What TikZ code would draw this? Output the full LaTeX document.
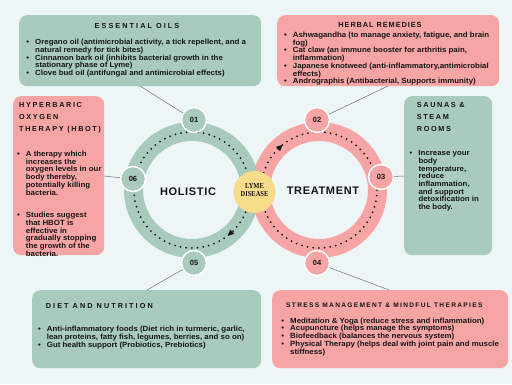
\documentclass[tikz,border=0pt]{standalone}
\usepackage{fontspec}
\setmainfont{Liberation Sans}
\newfontfamily\bodyf{Liberation Sans}[FakeStretch=1.05]
\newfontfamily\ttlf{Liberation Sans}[LetterSpace=22]
\newfontfamily\ttle{Liberation Sans}[LetterSpace=28]
\newfontfamily\ttls{Liberation Sans}[LetterSpace=20]
\newfontfamily\ttlh{Liberation Sans}[LetterSpace=12]
\newfontfamily\bigf{Liberation Sans}[LetterSpace=6]
\newfontfamily\lymef{Liberation Serif}[FakeStretch=0.85]
\usetikzlibrary{arrows.meta,calc}
\definecolor{bg}{HTML}{EEF5F6}
\definecolor{grn}{HTML}{A8CBBD}
\definecolor{pnk}{HTML}{F6A5A4}
\definecolor{ylw}{HTML}{F7DC8B}
\definecolor{ink}{HTML}{151515}
\definecolor{lnc}{HTML}{707070}
\newcommand{\bul}{\makebox[8.8pt][l]{•}}
\newcommand{\cnt}{\hspace*{8.8pt}}
\tikzset{
  box/.style={rounded corners=8pt, anchor=north west, inner sep=0pt},
  gbox/.style={box, fill=grn},
  pbox/.style={box, fill=pnk},
  body/.style={anchor=base west, inner sep=0pt, text=ink, font=\fontsize{7.5}{7.6}\selectfont\bodyf\bfseries},
  ttl/.style={inner sep=0pt, text=ink, font=\fontsize{7.3}{12}\selectfont\ttlf\bfseries},
  ttlw/.style={inner sep=0pt, text=ink, font=\fontsize{7.3}{12}\selectfont\ttle\bfseries},
  num/.style={circle, minimum size=25pt, inner sep=0pt, draw=white, line width=1.5pt, text=ink, font=\fontsize{7.5}{8}\selectfont\bfseries},
  gnum/.style={num, fill=grn},
  pnum/.style={num, fill=pnk},
  conn/.style={draw=lnc, line width=0.5pt},
  dots/.style={draw=ink, line width=2pt, line cap=round, dash pattern=on 0pt off 5.7pt},
  big/.style={inner sep=0pt, text=ink, font=\fontsize{11}{12}\selectfont\bigf\bfseries}
}
\begin{document}
\begin{tikzpicture}[x=1pt,y=-1pt]
\fill[bg] (0,0) rectangle (512,384);
\useasboundingbox (0,0) rectangle (512,384);

% rings
\coordinate (L) at (192,190);
\coordinate (R) at (319,190);
\draw[pnk, line width=19pt] (R) circle[radius=58.5];
\draw[grn, line width=19pt] (L) circle[radius=58.5];
\draw[dots] (L) circle[radius=58];
\draw[dots] (R) circle[radius=58];
\fill[ink] ($(L)+(52:58)$) -- ($(L)+(46:61)$) -- ($(L)+(46:55)$) -- cycle;
\fill[ink] ($(R)+(231:58)$) -- ($(R)+(225:61)$) -- ($(R)+(225:55)$) -- cycle;

% boxes
\node[gbox, minimum width=242pt, minimum height=71pt] (eo) at (19,15) {};
\node[pbox, minimum width=222pt, minimum height=71pt] (hr) at (277,15) {};
\node[pbox, minimum width=91pt, minimum height=159pt] (hb) at (13,96) {};
\node[gbox, minimum width=88pt, minimum height=159pt] (sa) at (404,96) {};
\node[gbox, minimum width=229pt, minimum height=78pt] (dn) at (32,290) {};
\node[pbox, minimum width=236pt, minimum height=78pt] (sm) at (272,290) {};

% connector ends
\coordinate (eoc) at (140,86);
\coordinate (hrc) at (388,86);
\coordinate (hbc) at (104,176);
\coordinate (sac) at (404,176);
\coordinate (dnc) at (147,290);
\coordinate (smc) at (389,290);

% step nodes
\node[gnum] (n1) at (194,120) {01};
\node[pnum] (n2) at (317,120) {02};
\node[pnum] (n3) at (381,177) {03};
\node[pnum] (n4) at (317,263) {04};
\node[gnum] (n5) at (194,263) {05};
\node[gnum] (n6) at (133,179) {06};

\draw[conn] (eoc) -- (n1);
\draw[conn] (hrc) -- (n2);
\draw[conn] (hbc) -- (n6);
\draw[conn] (sac) -- (n3);
\draw[conn] (dnc) -- (n5);
\draw[conn] (smc) -- (n4);

% centre
\node[circle, fill=ylw, minimum size=42pt, inner sep=0pt] (ld) at (254.5,192) {};
\node[inner sep=0pt, text=ink, font=\fontsize{7.6}{8.6}\selectfont\lymef\bfseries, align=center] (ldt) at (254.5,190) {LYME\\DISEASE};
\node[big] (hol) at (188,192) {HOLISTIC};
\node[big] (trt) at (323,191) {TREATMENT};

% titles
\node[ttlw, anchor=base] (eot) at (137,28.6) {ESSENTIAL OILS};
\node[inner sep=0pt, text=ink, font=\fontsize{7.4}{9}\selectfont\ttlh\bfseries, anchor=base] (hrt) at (380,27.6) {HERBAL REMEDIES};
\node[ttl, anchor=base west] (hbt) at (19,107.6) {\begin{tabular}[t]{@{}l@{}}HYPERBARIC\\OXYGEN\\THERAPY (HBOT)\end{tabular}};
\node[ttl, anchor=base west] (sat) at (416.7,107.6) {\begin{tabular}[t]{@{}l@{}}SAUNAS \&\\STEAM\\ROOMS\end{tabular}};
\node[ttlw, anchor=base west] (dnt) at (45.7,308.6) {DIET AND NUTRITION};
\node[ttl, anchor=base west, font=\fontsize{6.6}{8}\selectfont\ttls\bfseries] (smt) at (286,307.5) {STRESS MANAGEMENT \& MINDFUL THERAPIES};

% body texts
\node[body] (eob) at (26.2,44.8) {\begin{tabular}[t]{@{}l@{}}
\bul Oregano oil (antimicrobial activity, a tick repellent, and a\\
\cnt natural remedy for tick bites)\\
\bul Cinnamon bark oil (inhibits bacterial growth in the\\
\cnt stationary phase of Lyme)\\
\bul Clove bud oil (antifungal and antimicrobial effects)
\end{tabular}};
\node[body] (hrb) at (283.9,37.5) {\begin{tabular}[t]{@{}l@{}}
\bul Ashwagandha (to manage anxiety, fatigue, and brain\\
\cnt fog)\\
\bul Cat claw (an immune booster for arthritis pain,\\
\cnt inflammation)\\
\bul Japanese knotweed (anti-inflammatory,antimicrobial\\
\cnt effects)\\
\bul Andrographis (Antibacterial, Supports immunity)
\end{tabular}};
\node[body] (hbb) at (16.9,156.5) {\begin{tabular}[t]{@{}l@{}}
\bul A therapy which\\
\cnt increases the\\
\cnt oxygen levels in our\\
\cnt body thereby,\\
\cnt potentially killing\\
\cnt bacteria.\\[15pt]
\bul Studies suggest\\
\cnt that HBOT is\\
\cnt effective in\\
\cnt gradually stopping\\
\cnt the growth of the\\
\cnt bacteria.
\end{tabular}};
\node[body] (sab) at (409.5,155.8) {\begin{tabular}[t]{@{}l@{}}
\bul Increase your\\
\cnt body\\
\cnt temperature,\\
\cnt reduce\\
\cnt inflammation,\\
\cnt and support\\
\cnt detoxification in\\
\cnt the body.
\end{tabular}};
\node[body] (dnb) at (37.9,331.8) {\begin{tabular}[t]{@{}l@{}}
\bul Anti-inflammatory foods (Diet rich in turmeric, garlic,\\
\cnt lean proteins, fatty fish, legumes, berries, and so on)\\
\bul Gut health support (Probiotics, Prebiotics)
\end{tabular}};
\node[body] (smb) at (281.2,323.2) {\begin{tabular}[t]{@{}l@{}}
\bul Meditation \& Yoga (reduce stress and inflammation)\\
\bul Acupuncture (helps manage the symptoms)\\
\bul Biofeedback (balances the nervous system)\\
\bul Physical Therapy (helps deal with joint pain and muscle\\
\cnt stiffness)
\end{tabular}};
\end{tikzpicture}
\end{document}
